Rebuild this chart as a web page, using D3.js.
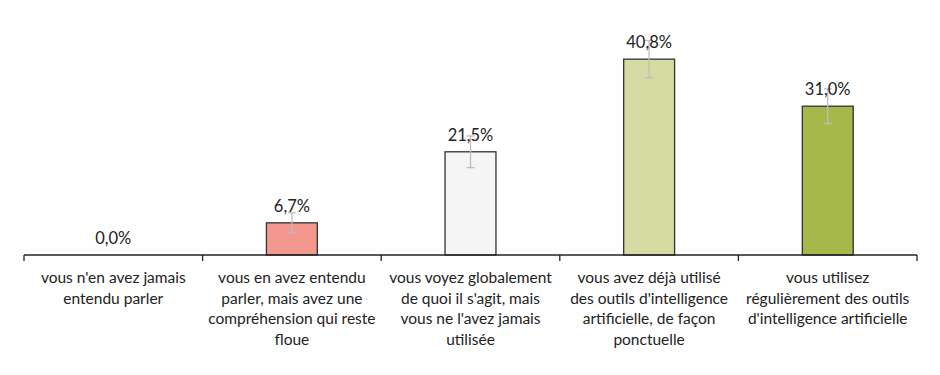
<!DOCTYPE html>
<html>
<head>
<meta charset="utf-8">
<script src="https://cdn.jsdelivr.net/npm/d3@7"></script>
<style>
  html, body { margin: 0; padding: 0; background: #fff; overflow: hidden; }
  svg { display: block; }
  text { font-family: Lato, "Open Sans", sans-serif; fill: #222; }
</style>
</head>
<body>
<div id="chart"></div>
<script>
const categories = [
    "vous n'en avez jamais entendu parler",
    "vous en avez entendu parler, mais avez une compréhension qui reste floue",
    "vous voyez globalement de quoi il s'agit, mais vous ne l'avez jamais utilisée",
    "vous avez déjà utilisé des outils d'intelligence artificielle, de façon ponctuelle",
    "vous utilisez régulièrement des outils d'intelligence artificielle"
];
const labelLines = [
    ["vous n'en avez jamais", "entendu parler"],
    ["vous en avez entendu", "parler, mais avez une", "compréhension qui reste", "floue"],
    ["vous voyez globalement", "de quoi il s'agit, mais", "vous ne l'avez jamais", "utilisée"],
    ["vous avez déjà utilisé", "des outils d'intelligence", "artificielle, de façon", "ponctuelle"],
    ["vous utilisez", "régulièrement des outils", "d'intelligence artificielle"]
];
const values = [0.0, 6.7, 21.5, 40.8, 31.0];
const errors = [0, 2.1, 3.3, 3.9, 3.6];
const colors = ["#F5F5F5", "#F4978F", "#F5F5F5", "#D4DCA4", "#A6B84A"];

const width = 940, height = 375;
const margin = { left: 24, right: 23, top: 15, bottom: 120 };
const innerWidth = width - margin.left - margin.right;
const innerHeight = height - margin.top - margin.bottom;

const data = categories.map((c, i) => ({
    cat: c, value: values[i], err: errors[i], color: colors[i], lines: labelLines[i]
}));

const svg = d3.select('#chart').append('svg')
    .attr('width', width)
    .attr('height', height);

const g = svg.append('g')
    .attr('transform', `translate(${margin.left},${margin.top})`);

const xScale = d3.scaleBand()
    .domain(categories)
    .range([0, innerWidth])
    .paddingInner(0.715)
    .paddingOuter(0.357);

const xCat = d3.scaleBand()
    .domain(categories)
    .range([0, innerWidth]);

const yScale = d3.scaleLinear()
    .domain([0, 50])
    .range([innerHeight, 0]);

const center = d => xCat(d.cat) + xCat.bandwidth() / 2;

// bars
g.selectAll('rect.bar').data(data.filter(d => d.value > 0))
    .enter().append('rect')
    .attr('class', 'bar')
    .attr('x', d => xScale(d.cat))
    .attr('y', d => yScale(d.value))
    .attr('width', xScale.bandwidth())
    .attr('height', d => yScale(0) - yScale(d.value))
    .attr('fill', d => d.color)
    .attr('stroke', '#333')
    .attr('stroke-width', 1.3);

// error bars
const errG = g.append('g').attr('stroke', '#BDBDBD').attr('stroke-width', 1.3);
data.filter(d => d.err > 0).forEach(d => {
    const cx = center(d);
    errG.append('line')
        .attr('x1', cx).attr('x2', cx)
        .attr('y1', yScale(d.value + d.err)).attr('y2', yScale(d.value - d.err));
    [d.value + d.err, d.value - d.err].forEach(e => {
        errG.append('line')
            .attr('x1', cx - 4).attr('x2', cx + 4)
            .attr('y1', yScale(e)).attr('y2', yScale(e));
    });
});

// value labels
g.selectAll('text.val').data(data)
    .enter().append('text')
    .attr('class', 'val')
    .attr('x', center)
    .attr('y', d => yScale(d.value) - 11)
    .attr('text-anchor', 'middle')
    .style('font-size', '16.5px')
    .text(d => d.value.toFixed(1).replace('.', ',') + '%');

// x axis
const xAxisG = g.append('g')
    .attr('transform', `translate(0,${innerHeight})`);
xAxisG.append('line')
    .attr('x1', 0).attr('x2', innerWidth)
    .attr('stroke', '#222').attr('stroke-width', 1.3);
const tickXs = categories.map(c => xCat(c)).concat([innerWidth]);
xAxisG.selectAll('line.tick').data(tickXs)
    .enter().append('line')
    .attr('class', 'tick')
    .attr('x1', d => d).attr('x2', d => d)
    .attr('y1', 0).attr('y2', 6)
    .attr('stroke', '#222').attr('stroke-width', 1.3);

// category labels, one text per line
const lineData = [];
data.forEach(d => d.lines.forEach((t, j) => lineData.push({ x: center(d), j: j, t: t })));
xAxisG.selectAll('text.cat').data(lineData)
    .enter().append('text')
    .attr('class', 'cat')
    .attr('text-anchor', 'middle')
    .attr('x', d => d.x)
    .attr('y', d => 28 + d.j * 20.7)
    .style('font-size', '15.5px')
    .text(d => d.t);
</script>
</body>
</html>
